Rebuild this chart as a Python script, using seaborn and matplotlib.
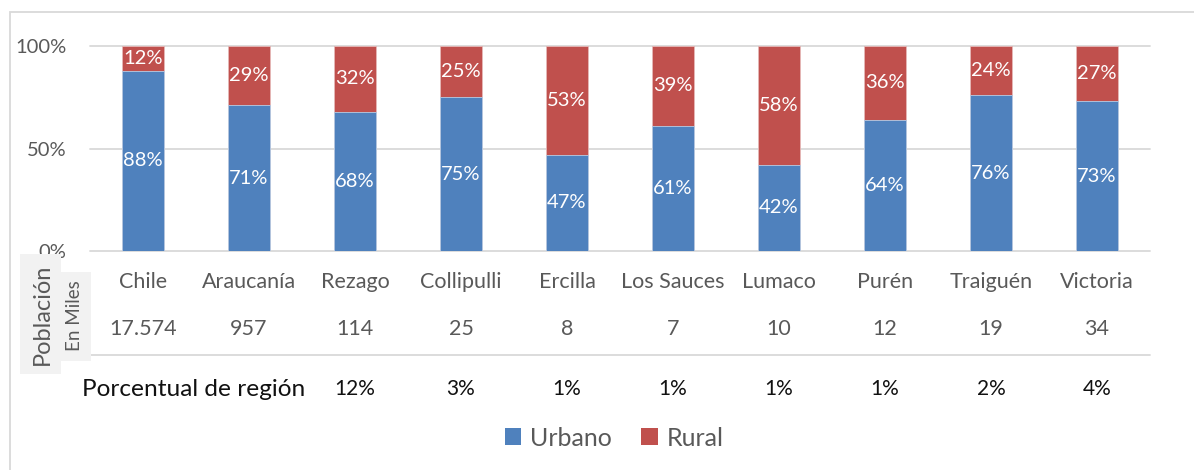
import matplotlib
matplotlib.use("Agg")
import matplotlib.pyplot as plt
import seaborn as sns
import pandas as pd
from matplotlib.patches import Rectangle, Patch

# ---- data ----
categorias = ["Chile", "Araucanía", "Rezago", "Collipulli", "Ercilla",
              "Los Sauces", "Lumaco", "Purén", "Traiguén", "Victoria"]
urbano = [88, 71, 68, 75, 47, 61, 42, 64, 76, 73]
rural = [12, 29, 32, 25, 53, 39, 58, 36, 24, 27]
poblacion_miles = ["17.574", "957", "114", "25", "8", "7", "10", "12", "19", "34"]
porcentual_region = ["", "", "12%", "3%", "1%", "1%", "1%", "1%", "2%", "4%"]
yticks = [0, 50, 100]
ytick_labels = ["0%", "50%", "100%"]
series_names = ["Urbano", "Rural"]

BLUE = "#4F81BD"
RED = "#C0504D"
GREY = "#595959"
GRID = "#D9D9D9"

sns.set_theme(style="white")
plt.rcParams['font.family'] = ['Lato', 'DejaVu Sans']

W, H = 1194, 470
fig = plt.figure(figsize=(W / 100, H / 100), dpi=100)
fig.patch.set_facecolor("white")


def fx(px):
    return px / W


def fy(py):
    return 1 - py / H


# outer border
fig.patches.append(Rectangle((fx(10), fy(480)), fx(1300) - fx(10), fy(12) - fy(480),
                             transform=fig.transFigure, fill=False,
                             edgecolor=GRID, linewidth=1.3, zorder=0))

ax = fig.add_axes([fx(90), fy(251), fx(1150) - fx(90), fy(46) - fy(251)])
ax.set_facecolor("none")

df = pd.DataFrame({"cat": categorias, "urbano": urbano, "rural": rural})
df["total"] = df["urbano"] + df["rural"]

sns.barplot(data=df, x="cat", y="total", color=RED, width=0.4, saturation=1,
            ax=ax, edgecolor="#E6B8B7", linewidth=0.6, zorder=3)
sns.barplot(data=df, x="cat", y="urbano", color=BLUE, width=0.4, saturation=1,
            ax=ax, edgecolor="#B9CDE5", linewidth=0.6, zorder=4)

ax.set_ylim(0, 100)
ax.set_xlim(-0.5, len(categorias) - 0.5)
for s in ax.spines.values():
    s.set_visible(False)
for t in yticks:
    ax.axhline(t, color=GRID, linewidth=1.3, zorder=1, clip_on=False)
ax.set_yticks(yticks)
ax.set_yticklabels(ytick_labels, color=GREY, fontsize=14.5)
ax.tick_params(axis="y", length=0, pad=17)
ax.set_xticks([])
ax.set_xlabel("")
ax.set_ylabel("")

# data labels
for i, (u, r) in enumerate(zip(urbano, rural)):
    ax.text(i, u / 2, f"{u}%", ha="center", va="center", color="white",
            fontsize=14.5, zorder=6)
    ax.text(i, u + r / 2, f"{r}%", ha="center", va="center", color="white",
            fontsize=14.5, zorder=6)

# table rows below axis
tr = ax.get_xaxis_transform()


def ay(py):
    return (251 - py) / (251 - 46)


for i, c in enumerate(categorias):
    ax.text(i, ay(282), c, ha="center", va="center", color=GREY,
            fontsize=15.5, transform=tr, clip_on=False)
    ax.text(i, ay(329), poblacion_miles[i], ha="center", va="center",
            color=GREY, fontsize=15.5, transform=tr, clip_on=False)
    if porcentual_region[i]:
        ax.text(i, ay(389), porcentual_region[i], ha="center", va="center",
                color="#111111", fontsize=15, transform=tr, clip_on=False)

ax.axhline(100 * ay(355), color=GRID, linewidth=1.3, clip_on=False, zorder=1)

fig.text(fx(82), fy(390), "Porcentual de región", ha="left", va="center",
         color="#111111", fontsize=17.6)

# left header boxes
fig.patches.append(Rectangle((fx(20), fy(374)), fx(61) - fx(20), fy(254) - fy(374),
                             transform=fig.transFigure, facecolor="#F2F2F2",
                             edgecolor="none", zorder=5))
fig.patches.append(Rectangle((fx(61), fy(361)), fx(91) - fx(61), fy(272) - fy(361),
                             transform=fig.transFigure, facecolor="#F2F2F2",
                             edgecolor="none", zorder=5))
fig.text(fx(42), fy(314), "Población", rotation=90, ha="center", va="center",
         color=GREY, fontsize=17, zorder=6)
fig.text(fx(75), fy(316), "En Miles", rotation=90, ha="center", va="center",
         color=GREY, fontsize=13.5, zorder=6)

# legend
handles = [Patch(facecolor=BLUE, edgecolor="none"),
           Patch(facecolor=RED, edgecolor="none")]
fig.legend(handles, series_names, loc="center", bbox_to_anchor=(fx(614), fy(438)),
           ncol=2, frameon=False, fontsize=18, handlelength=0.65, handleheight=0.65,
           handletextpad=0.35, columnspacing=1.2, labelcolor=GREY)

fig.savefig("out.png", dpi=100, facecolor="white")
